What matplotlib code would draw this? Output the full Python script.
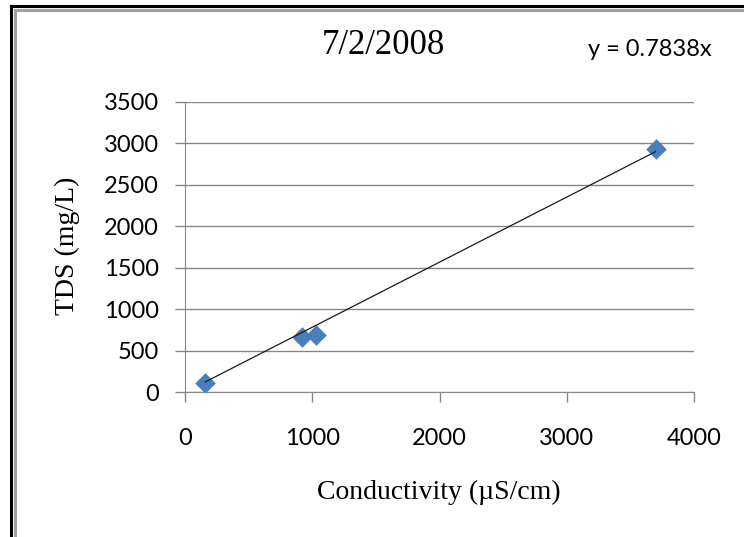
import numpy as np
import matplotlib.pyplot as plt
from matplotlib.lines import Line2D

# conductivity (uS/cm) vs total dissolved solids (mg/L)
conductivity = [157, 917, 1027, 3698]
tds = [108, 663, 690, 2931]
slope = 0.7838  # trendline forced through origin

x_ticks = [0, 1000, 2000, 3000, 4000]
y_ticks = [0, 500, 1000, 1500, 2000, 2500, 3000, 3500]

serif = "Liberation Serif"
sans = "Lato"

fig = plt.figure(figsize=(7.44, 5.37), dpi=100)
ax = fig.add_axes([0.2487, 0.2695, 0.6841, 0.5411])

ax.scatter(conductivity, tds, marker="D", s=110, color="#4a7ebb", zorder=3, linewidths=0)

xs = np.array([min(conductivity), max(conductivity)])
ax.plot(xs, slope * xs, color="#1a1a1a", lw=0.9, zorder=4)

ax.set_xlim(0, 4000)
ax.set_ylim(0, 3500)
ax.set_xticks(x_ticks)
ax.set_yticks(y_ticks)
ax.grid(axis="y", color="#868686", lw=1.0)
ax.set_axisbelow(True)
for side in ("top", "right"):
    ax.spines[side].set_visible(False)
for side in ("left", "bottom"):
    ax.spines[side].set_color("#868686")
ax.tick_params(direction="out", length=7, color="#868686", width=1, labelsize=17)
ax.tick_params(axis="x", pad=19)
ax.tick_params(axis="y", pad=12)
for lbl in ax.get_xticklabels() + ax.get_yticklabels():
    lbl.set_fontfamily(sans)

ax.set_xlabel("Conductivity (\u00b5S/cm)", family=serif, fontsize=20)
ax.xaxis.set_label_coords(0.498, -0.303)
ax.set_ylabel("TDS (mg/L)", family=serif, fontsize=20)
ax.yaxis.set_label_coords(-0.206, 0.503)

fig.text(383 / 744, 1 - 46 / 537, "7/2/2008", family=serif, fontsize=25,
         ha="center", va="center")
fig.text(650 / 744, 1 - 50 / 537, "y = 0.7838x", family=sans, fontsize=17,
         ha="center", va="center")

# double frame around the chart area
for off, col, lw in ((0.0, "black", 2.2), (4.0, "#a0a0a0", 2.2)):
    x0 = (10.5 + off) / 744
    y0 = 1 - (6 + off) / 537
    fig.add_artist(Line2D([x0, x0], [0, y0], color=col, lw=lw))
    fig.add_artist(Line2D([x0, 1], [y0, y0], color=col, lw=lw))

fig.savefig("out.png", dpi=100)
